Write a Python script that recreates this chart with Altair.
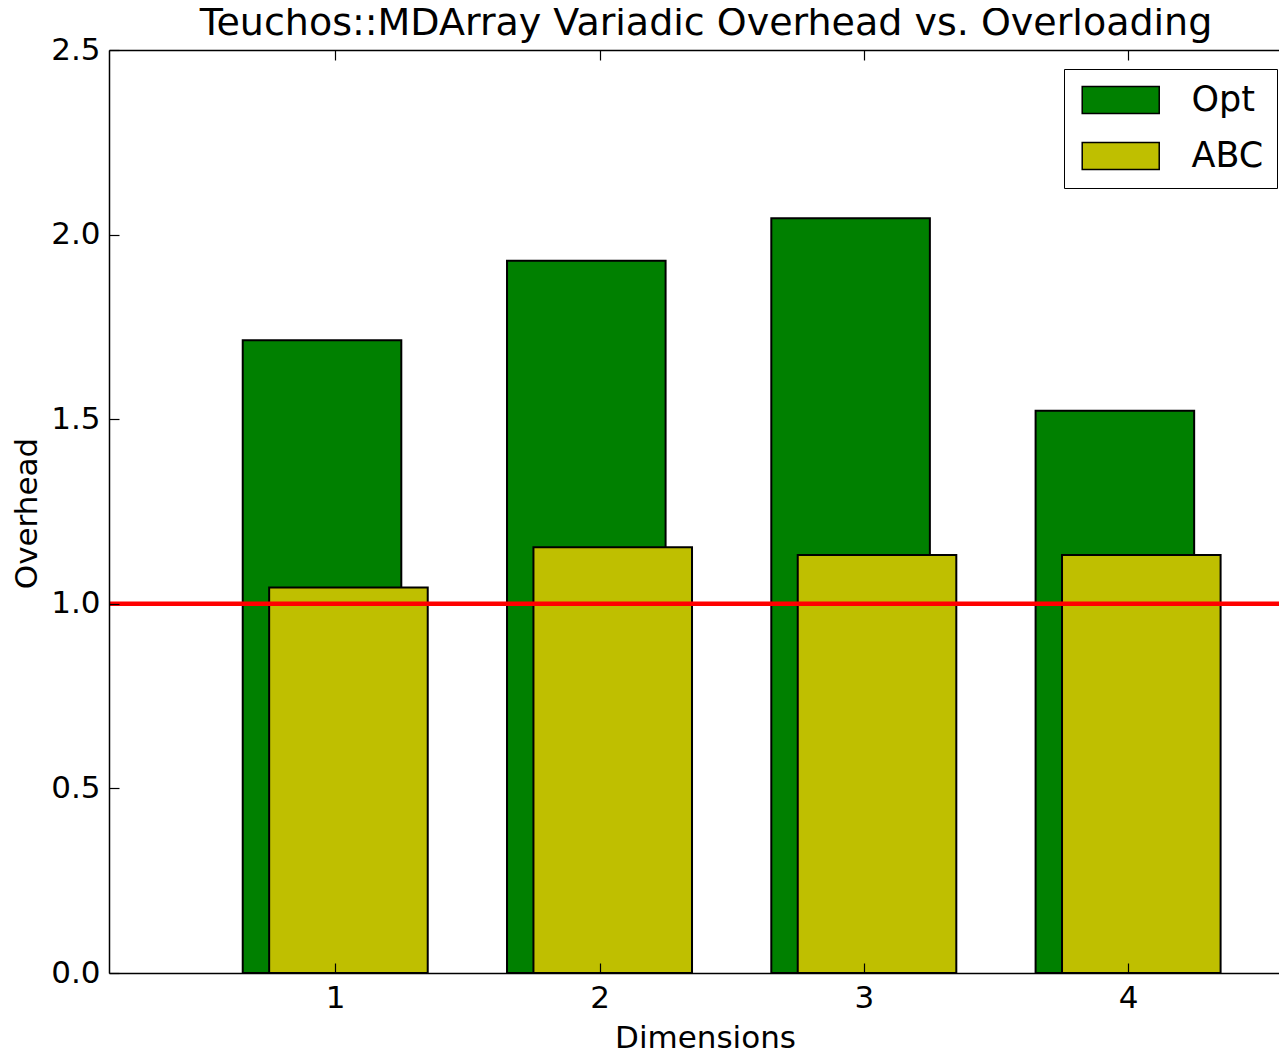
import altair as alt
import pandas as pd

dims = [1, 2, 3, 4]
opt_vals = [1.714, 1.929, 2.044, 1.523]
abc_vals = [1.044, 1.153, 1.132, 1.132]
series_names = ["Opt", "ABC"]
series_colors = ["#008000", "#bfbf00"]
y_ticks = [0.0, 0.5, 1.0, 1.5, 2.0, 2.5]
baseline_value = 1.0

W, H = 1170, 923
FONT = "DejaVu Sans"
X_DOMAIN = [0.144, 4.571]

rows = []
for d, v in zip(dims, opt_vals):
    rows.append({"dim": d, "x0": d - 0.35, "x1": d + 0.25, "value": v, "series": "Opt"})
for d, v in zip(dims, abc_vals):
    rows.append({"dim": d, "x0": d - 0.25, "x1": d + 0.35, "value": v, "series": "ABC"})
df = pd.DataFrame(rows)
opt_df = df[df.series == "Opt"]
abc_df = df[df.series == "ABC"]

xscale = alt.Scale(domain=X_DOMAIN, nice=False, zero=False)
yscale = alt.Scale(domain=[0, 2.5], nice=False)
color = alt.Color(
    "series:N",
    scale=alt.Scale(domain=series_names, range=series_colors),
    legend=alt.Legend(
        title=None, orient="none", legendX=955, legendY=19,
        direction="vertical",
        symbolType="M-0.83,-0.875L4.17,-0.875L4.17,0.875L-0.83,0.875Z", symbolSize=949,
        symbolStrokeColor="black", symbolStrokeWidth=1.5, symbolOpacity=1,
        labelFont=FONT, labelFontSize=35, labelColor="black",
        labelOffset=79, rowPadding=20, padding=13.5,
        strokeColor="black", fillColor="white", cornerRadius=0,
    ),
)

def tick_axis(orient, offset, domain=False, ticks=True):
    return alt.Axis(
        orient=orient, offset=offset, domain=domain, domainColor="black",
        domainWidth=1.5, ticks=ticks, tickSize=10, tickColor="black",
        tickWidth=1.2, labels=False, title=None, grid=False, zindex=2,
        values=dims if orient in ("top", "bottom") else y_ticks,
    )

main_x = alt.Axis(
    orient="bottom", values=dims, format="d", domain=True, domainColor="black",
    domainWidth=1.5, ticks=False, tickSize=0, labelFont=FONT, labelFontSize=31,
    labelColor="black", labelBaseline="alphabetic", labelPadding=34,
    title="Dimensions", titleFont=FONT, titleFontSize=31, titleFontWeight="normal",
    titleColor="black", titleX=596, titleY=74, titleBaseline="alphabetic",
    titleAlign="center", grid=False, zindex=2,
)
main_y = alt.Axis(
    orient="left", values=y_ticks, format=".1f", domain=True, domainColor="black",
    domainWidth=1.5, ticks=False, tickSize=0, labelFont=FONT, labelFontSize=31,
    labelColor="black", labelPadding=9,
    title="Overhead", titleFont=FONT, titleFontSize=31, titleFontWeight="normal",
    titleColor="black", titleAngle=270, titleX=-73, titleY=463,
    titleBaseline="alphabetic", titleAlign="center", grid=False, zindex=2,
)

opt_bars = alt.Chart(opt_df).mark_bar(stroke="black", strokeWidth=2, opacity=1).encode(
    x=alt.X("x0:Q", scale=xscale, axis=main_x),
    x2="x1:Q",
    y=alt.Y("value:Q", scale=yscale, axis=main_y),
    y2=alt.datum(0),
    color=color,
)
abc_bars = alt.Chart(abc_df).mark_bar(stroke="black", strokeWidth=2, opacity=1).encode(
    x=alt.X("x0:Q", scale=xscale, axis=tick_axis("bottom", -10)),
    x2="x1:Q",
    y=alt.Y("value:Q", scale=yscale, axis=tick_axis("left", -10)),
    y2=alt.datum(0),
    color=alt.Color("series:N", scale=alt.Scale(domain=series_names, range=series_colors)),
)
top_ticks = alt.Chart(opt_df).mark_point(opacity=0).encode(
    x=alt.X("dim:Q", scale=xscale, axis=tick_axis("top", -10)),
    y=alt.Y("value:Q", scale=yscale, axis=None),
)
top_spine = alt.Chart(opt_df).mark_point(opacity=0).encode(
    x=alt.X("dim:Q", scale=xscale, axis=tick_axis("top", 0, domain=True, ticks=False)),
    y=alt.Y("value:Q", scale=yscale, axis=None),
)
red_line = alt.Chart(pd.DataFrame({"y": [baseline_value]})).mark_rule(
    color="#ff0000", strokeWidth=4.5
).encode(y=alt.Y("y:Q", scale=yscale, axis=None))

chart = (
    alt.layer(opt_bars, abc_bars, top_ticks, top_spine, red_line)
    .resolve_scale(x="shared", y="shared", color="shared")
    .resolve_axis(x="independent", y="independent")
    .properties(
        width=W, height=H,
        autosize=alt.AutoSizeParams(type="none"),
        padding={"left": 101, "top": 42, "right": 0, "bottom": 78},
        title=alt.TitleParams(
            "Teuchos::MDArray Variadic Overhead vs. Overloading",
            font=FONT, fontSize=38, fontWeight="normal", color="black",
            anchor="middle", offset=5, dx=12, dy=14,
        ),
    )
    .configure_view(stroke=None)
    .configure(background="white")
)

chart.save("out.html", embed_options={"renderer": "svg", "actions": False})
